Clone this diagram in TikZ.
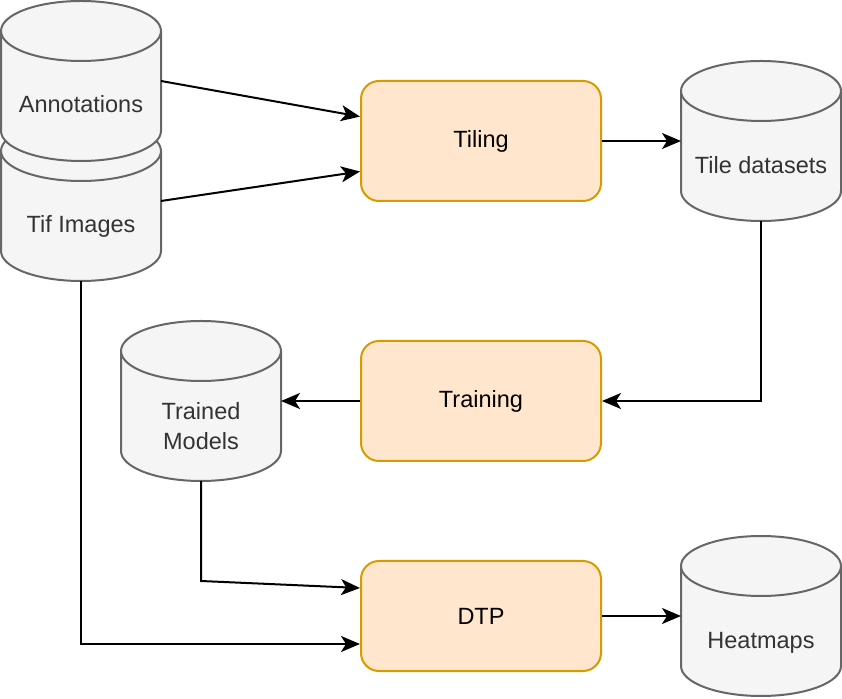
\documentclass[tikz,border=0pt]{standalone}
\usepackage{fontspec}
\setmainfont{Liberation Sans}
\usetikzlibrary{arrows.meta,calc}
\definecolor{cylfill}{HTML}{F5F5F5}
\definecolor{cylline}{HTML}{666666}
\definecolor{cyltext}{HTML}{333333}
\definecolor{boxfill}{HTML}{FFE6CC}
\definecolor{boxline}{HTML}{D79B00}
\newcommand\drawcyl[2]{%
 \filldraw[cylshape] (#1,#2-30) arc[start angle=180,end angle=0,x radius=80,y radius=30] -- (#1+160,#2-130) arc[start angle=360,end angle=180,x radius=80,y radius=30] -- cycle;
 \draw[cylshape] (#1+160,#2-30) arc[start angle=360,end angle=180,x radius=80,y radius=30];
}
\tikzset{
 cylshape/.style={fill=cylfill,draw=cylline,line width=2pt},
 cylbox/.style={draw=none,inner sep=0pt,outer sep=0pt,minimum width=160pt,minimum height=160pt},
 cyllabel/.style={text=cyltext,font=\fontsize{23.5}{30}\selectfont,align=center,inner sep=0pt},
 procbox/.style={draw=boxline,fill=boxfill,line width=2pt,rounded corners=18pt,minimum width=240pt,minimum height=120pt,font=\fontsize{23.5}{30}\selectfont,text=black},
 conn/.style={line width=2pt,-{Stealth[length=19pt,width=16pt,inset=5pt]}}
}
\begin{document}
\begin{tikzpicture}[x=1pt,y=1pt]
\useasboundingbox (0,0) rectangle (842,698);
% cylinders
\drawcyl{1}{577}
\node[cylbox] (tif) at (81,497) {};
\node[cyllabel,anchor=base] (tiflbl) at (81,465) {Tif Images};
\drawcyl{1}{697}
\node[cylbox] (ann) at (81,617) {};
\node[cyllabel,anchor=base] (annlbl) at (81,585) {Annotations};
\drawcyl{681}{637}
\node[cylbox] (tile) at (761,557) {};
\node[cyllabel,anchor=base] (tilelbl) at (761,524) {Tile datasets};
\drawcyl{121}{377}
\node[cylbox] (trained) at (201,297) {};
\node[cyllabel] (trainedlbl) at (201,272) {Trained\\Models};
\drawcyl{681}{162}
\node[cylbox] (heat) at (761,82) {};
\node[cyllabel,anchor=base] (heatlbl) at (761,50) {Heatmaps};
% process boxes
\node[procbox] (tiling) at (481,557) {Tiling};
\node[procbox] (training) at (481,297) {Training};
\node[procbox,minimum height=110pt] (dtp) at (481,82) {DTP};
% connectors
\coordinate (tmcorner) at (201,117);
\draw[conn] (ann.east) -- ($(tiling.north west)!0.3!(tiling.south west)$);
\draw[conn] (tif.east) -- ($(tiling.north west)!0.75!(tiling.south west)$);
\draw[conn] (tiling.east) -- (tile.west);
\draw[conn] (tile.south) |- (training.east);
\draw[conn] (training.west) -- (trained.east);
\draw[conn] (trained.south) -- (tmcorner) -- ($(dtp.north west)!0.25!(dtp.south west)$);
\draw[conn] (tif.south) |- ($(dtp.north west)!0.75!(dtp.south west)$);
\draw[conn] (dtp.east) -- (heat.west);
\end{tikzpicture}
\end{document}
